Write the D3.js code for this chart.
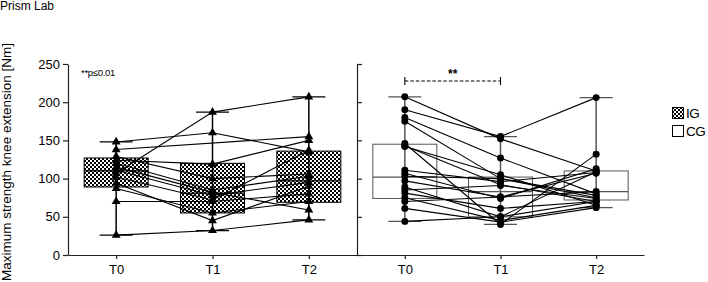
<!DOCTYPE html>
<html>
<head>
<meta charset="utf-8">
<script src="https://cdn.jsdelivr.net/npm/d3@7"></script>
<style>
  body { margin: 0; background: #fff; }
  svg { display: block; font-family: Arial, "Liberation Sans", sans-serif; }
</style>
</head>
<body>
<svg class="main" width="708" height="282"></svg>
<script>
var times = ["T0", "T1", "T2"],
    yTicks = [0, 50, 100, 150, 200, 250];

// IG subjects (triangles), one array per subject: T0, T1, T2 (null = missing)
var igSubjects = [
    [148, 160, 135],
    [138, null, 155],
    [129, 100, 106],
    [124, 119, 150],
    [120, 85, 103],
    [115, 82, 59],
    [111, 78, 95],
    [107, 187, 207],
    [102, 72, 137],
    [94, 45, 90],
    [87, 55, 70],
    [70, 70, 80],
    [26, 32, 46]
];
var igQ1 = [89, 55, 69],
    igMed = [110, 81, 97],
    igQ3 = [127, 120, 136];

// CG subjects (circles)
var cgSubjects = [
    [207, 152, 110],
    [190, 155, 206],
    [180, 127, 80],
    [175, 100, 75],
    [146, 40, 132],
    [143, 92, 70],
    [142, 105, 65],
    [111, 96, 108],
    [107, 74, 113],
    [103, 100, 78],
    [97, 76, 83],
    [89, 50, 109],
    [85, 91, 74],
    [81, 61, 70],
    [75, 45, 65],
    [70, 76, 107],
    [61, 43, 62],
    [44, 50, 70]
];
var cgQ1 = [74, 50, 72],
    cgMed = [102, 83, 83],
    cgQ3 = [145, 102, 110];

var svg = d3.select(".main");

var y = d3.scaleLinear().domain([0, 250]).range([255, 64]);
var xL = d3.scalePoint().domain(times).range([68, 357]).padding(0.5);
var xR = d3.scalePoint().domain(times).range([357, 644]).padding(0.5);

// checker pattern
var defs = svg.append("defs");
var pat = defs.append("pattern")
    .attr("id", "checker")
    .attr("patternUnits", "userSpaceOnUse")
    .attr("width", 4).attr("height", 4);
pat.append("rect").attr("width", 4).attr("height", 4).attr("fill", "#fff");
pat.append("rect").attr("width", 2).attr("height", 2).attr("fill", "#000");
pat.append("rect").attr("x", 2).attr("y", 2).attr("width", 2).attr("height", 2).attr("fill", "#000");

svg.append("text")
    .attr("x", 0).attr("y", 10)
    .style("font-size", "12px")
    .text("Prism Lab");

function drawPanel(x, subjects, q1, med, q3, opts) {
    var g = svg.append("g");
    var boxW = 64, capW = 33;

    times.forEach(function(t, i) {
        var vals = subjects.map(function(s) { return s[i]; }).filter(function(v) { return v != null; });
        var ext = d3.extent(vals);
        var cx = x(t);
        g.append("rect")
            .attr("x", cx - boxW / 2).attr("width", boxW)
            .attr("y", y(q3[i])).attr("height", y(q1[i]) - y(q3[i]))
            .attr("fill", opts.fill)
            .attr("stroke", opts.boxStroke).attr("stroke-width", 1);
        g.append("line")
            .attr("x1", cx - boxW / 2).attr("x2", cx + boxW / 2)
            .attr("y1", y(med[i])).attr("y2", y(med[i]))
            .attr("stroke", opts.boxStroke).attr("stroke-width", 1.2);
        g.append("line")
            .attr("x1", cx).attr("x2", cx)
            .attr("y1", y(ext[0])).attr("y2", y(ext[1]))
            .attr("stroke", opts.whisker).attr("stroke-width", 1.5);
        [ext[0], ext[1]].forEach(function(v) {
            g.append("line")
                .attr("x1", cx - capW / 2).attr("x2", cx + capW / 2)
                .attr("y1", y(v)).attr("y2", y(v))
                .attr("stroke", opts.whisker).attr("stroke-width", 1.3);
        });
    });

    var line = d3.line()
        .x(function(d) { return x(d.t); })
        .y(function(d) { return y(d.v); });

    subjects.forEach(function(s) {
        var pts = s.map(function(v, i) { return { t: times[i], v: v }; })
            .filter(function(d) { return d.v != null; });
        g.append("path")
            .attr("d", line(pts))
            .attr("fill", "none")
            .attr("stroke", "#000").attr("stroke-width", 1.1);
    });

    var sym = d3.symbol().type(opts.symbol).size(opts.symSize);
    subjects.forEach(function(s) {
        s.forEach(function(v, i) {
            if (v == null) return;
            g.append("path")
                .attr("d", sym())
                .attr("transform", "translate(" + x(times[i]) + "," + y(v) + ")")
                .attr("fill", "#000");
        });
    });
}

drawPanel(xL, igSubjects, igQ1, igMed, igQ3,
    { fill: "url(#checker)", boxStroke: "#000", whisker: "#000", symbol: d3.symbolTriangle, symSize: 34 });
drawPanel(xR, cgSubjects, cgQ1, cgMed, cgQ3,
    { fill: "none", boxStroke: "#555", whisker: "#555", symbol: d3.symbolCircle, symSize: 38 });

// axes
var axL = svg.append("g")
    .attr("transform", "translate(68,0)")
    .call(d3.axisLeft(y).tickValues(yTicks).tickSize(5).tickSizeOuter(0).tickPadding(3));
axL.selectAll("text").style("font-size", "13px").attr("fill", "#000");

var axR = svg.append("g")
    .attr("transform", "translate(357,0)")
    .call(d3.axisRight(y).tickValues(yTicks).tickFormat("").tickSize(5).tickSizeOuter(0));

var bxL = svg.append("g")
    .attr("transform", "translate(0,255)")
    .call(d3.axisBottom(xL).tickSize(4).tickSizeOuter(0).tickPadding(6));
var bxR = svg.append("g")
    .attr("transform", "translate(0,255)")
    .call(d3.axisBottom(xR).tickSize(4).tickSizeOuter(0).tickPadding(6));
[bxL, bxR].forEach(function(a) {
    a.selectAll("text").style("font-size", "13px").attr("fill", "#000");
});
[axL, axR, bxL, bxR].forEach(function(a) {
    a.selectAll("path, line").attr("stroke", "#222").attr("stroke-width", 1.2);
});

svg.append("text")
    .attr("transform", "translate(11,162) rotate(-90)")
    .attr("text-anchor", "middle")
    .style("font-size", "13.5px")
    .text("Maximum strength knee extension [Nm]");

svg.append("text")
    .attr("x", 81).attr("y", 76)
    .style("font-size", "9.5px")
    .style("letter-spacing", "-0.3px")
    .text("**p\u22640.01");

// significance bracket
var sy = 81;
svg.append("line")
    .attr("x1", xR("T0")).attr("x2", xR("T1"))
    .attr("y1", sy).attr("y2", sy)
    .attr("stroke", "#000").attr("stroke-width", 1.1)
    .attr("stroke-dasharray", "3.5,2");
["T0", "T1"].forEach(function(t) {
    svg.append("line")
        .attr("x1", xR(t)).attr("x2", xR(t))
        .attr("y1", sy - 4).attr("y2", sy + 4)
        .attr("stroke", "#000").attr("stroke-width", 1.1);
});
svg.append("text")
    .attr("x", (xR("T0") + xR("T1")) / 2).attr("y", sy - 3)
    .attr("text-anchor", "middle")
    .style("font-size", "12px").style("font-weight", "bold")
    .text("**");

// legend
var legend = [
    { label: "IG", fill: "url(#checker)" },
    { label: "CG", fill: "#fff" }
];
var lg = svg.append("g").attr("transform", "translate(672,107)");
legend.forEach(function(d, i) {
    lg.append("rect")
        .attr("x", 0.5).attr("y", i * 18 + 0.5)
        .attr("width", 11).attr("height", 11)
        .attr("fill", d.fill).attr("stroke", "#000").attr("stroke-width", 1);
    lg.append("text")
        .attr("x", 14).attr("y", i * 18 + 11)
        .style("font-size", "13.5px")
        .style("letter-spacing", "-0.5px")
        .text(d.label);
});
</script>
</body>
</html>
